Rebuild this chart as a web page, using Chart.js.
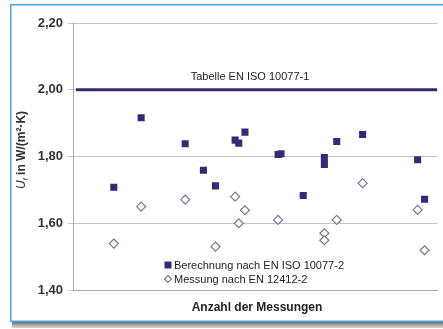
<!DOCTYPE html>
<html>
<head>
<meta charset="utf-8">
<script src="https://cdn.jsdelivr.net/npm/chart.js@4"></script>
<style>
html,body{margin:0;padding:0;background:#fff;width:443px;height:329px;overflow:hidden;}
#wrap{position:absolute;left:0;top:0;width:443px;height:329px;}
</style>
</head>
<body>
<div id="wrap"><canvas id="c" width="443" height="329"></canvas></div>
<script>
// Data
const calcX = [11.2, 18.7, 30.8, 35.8, 39.1, 44.5, 45.5, 47.2, 56.3, 57.1, 63.2, 69.0, 69.0, 72.4, 79.5, 94.6, 96.5];
const calcY = [1.708, 1.916, 1.838, 1.759, 1.712, 1.849, 1.840, 1.873, 1.806, 1.808, 1.683, 1.797, 1.776, 1.845, 1.866, 1.790, 1.672];
const measX = [11.2, 18.7, 30.8, 39.1, 44.5, 45.5, 47.2, 56.3, 69.0, 69.0, 72.4, 79.5, 94.6, 96.5];
const measY = [1.539, 1.650, 1.671, 1.530, 1.680, 1.600, 1.639, 1.610, 1.570, 1.549, 1.610, 1.720, 1.640, 1.519];
const refValue = 2.00;
const refLabel = 'Tabelle EN ISO 10077-1';
const yTicks = [1.40, 1.60, 1.80, 2.00, 2.20];
const seriesNames = ['Berechnung nach EN ISO 10077-2', 'Messung nach EN 12412-2'];
const xTitle = 'Anzahl der Messungen';

const SQ = '#302c7a';
const DI = '#767598';
const REF = '#3a2670';

const toPts = (xs, ys) => xs.map((x, i) => ({x: x, y: ys[i]}));

// Blue frame with shadow drawn on the canvas (left, top, bottom edges only)
const frame = {
  id: 'frame',
  beforeDraw(chart) {
    const ctx = chart.ctx;
    ctx.save();
    const g = ctx.createLinearGradient(0, 322, 0, 329);
    g.addColorStop(0, '#6f6f6f');
    g.addColorStop(1, 'rgba(160,160,160,0.3)');
    ctx.fillStyle = g;
    ctx.fillRect(12, 322, 431, 6);
    ctx.strokeStyle = '#45a6e6';
    ctx.lineWidth = 1.5;
    ctx.beginPath();
    ctx.moveTo(450, 4.75);
    ctx.lineTo(10.75, 4.75);
    ctx.lineTo(10.75, 321.25);
    ctx.lineTo(450, 321.25);
    ctx.stroke();
    ctx.restore();
  }
};

const overlay = {
  id: 'overlay',
  afterDraw(chart) {
    const ctx = chart.ctx;
    const ys = chart.scales.y;
    ctx.save();
    ctx.fillStyle = '#222';
    ctx.font = '11px "Liberation Sans", Arial, sans-serif';
    ctx.textAlign = 'center';
    ctx.textBaseline = 'middle';
    ctx.fillText(refLabel, 250, ys.getPixelForValue(refValue) - 13);
    ctx.font = 'bold 12px "Liberation Sans", Arial, sans-serif';
    ctx.fillText(xTitle, 257, 308);
    ctx.textAlign = 'left';
    ctx.font = '11px "Liberation Sans", Arial, sans-serif';
    ctx.fillStyle = SQ;
    ctx.fillRect(164.5, 261.5, 7, 7);
    ctx.fillStyle = '#222';
    ctx.fillText(seriesNames[0], 174, 265.5);
    ctx.beginPath();
    ctx.moveTo(168, 275.5); ctx.lineTo(171.5, 279); ctx.lineTo(168, 282.5); ctx.lineTo(164.5, 279); ctx.closePath();
    ctx.fillStyle = '#fff'; ctx.fill();
    ctx.strokeStyle = DI; ctx.lineWidth = 1.2; ctx.stroke();
    ctx.fillStyle = '#222';
    ctx.fillText(seriesNames[1], 174, 279.5);
    ctx.translate(22, 150);
    ctx.rotate(-Math.PI / 2);
    ctx.textBaseline = 'middle';
    const p1 = 'U', p2 = 'f', p3 = ' in W/(m²·K)';
    ctx.font = 'italic 12px "Liberation Sans", Arial, sans-serif';
    const w1 = ctx.measureText(p1).width;
    ctx.font = 'italic 8px "Liberation Sans", Arial, sans-serif';
    const w2 = ctx.measureText(p2).width;
    ctx.font = 'bold 12px "Liberation Sans", Arial, sans-serif';
    const w3 = ctx.measureText(p3).width;
    let x0 = -(w1 + w2 + w3) / 2;
    ctx.fillStyle = '#333';
    ctx.font = 'italic 12px "Liberation Sans", Arial, sans-serif';
    ctx.fillText(p1, x0, 0); x0 += w1;
    ctx.font = 'italic 8px "Liberation Sans", Arial, sans-serif';
    ctx.fillText(p2, x0, 4); x0 += w2;
    ctx.font = 'bold 12px "Liberation Sans", Arial, sans-serif';
    ctx.fillText(p3, x0, 0);
    ctx.restore();
  }
};

new Chart(document.getElementById('c'), {
  type: 'scatter',
  data: {
    datasets: [
      {
        type: 'line',
        label: refLabel,
        data: [{x: 0.8, y: refValue}, {x: 100, y: refValue}],
        borderColor: REF,
        borderWidth: 3,
        pointRadius: 0,
        order: 3
      },
      {
        label: seriesNames[1],
        data: toPts(measX, measY),
        pointStyle: 'rectRot',
        pointRadius: 4.5,
        backgroundColor: '#fff',
        borderColor: DI,
        borderWidth: 1.2,
        order: 2
      },
      {
        label: seriesNames[0],
        data: toPts(calcX, calcY),
        pointStyle: 'rect',
        pointRadius: 5,
        backgroundColor: SQ,
        borderColor: SQ,
        borderWidth: 0,
        order: 1
      }
    ]
  },
  options: {
    responsive: false,
    animation: false,
    events: [],
    layout: {padding: {left: 0, right: 2, top: 23, bottom: 0}},
    plugins: {legend: {display: false}, tooltip: {enabled: false}},
    scales: {
      x: {
        type: 'linear',
        min: 0, max: 100,
        ticks: {display: false},
        grid: {display: false},
        border: {display: true, color: '#a8a8a8', width: 1},
        afterFit(s) { s.height = 39; }
      },
      y: {
        min: 1.4, max: 2.2,
        afterBuildTicks(s) { s.ticks = yTicks.map(v => ({value: v})); },
        ticks: {
          padding: 5,
          color: '#333',
          font: {family: '"Liberation Sans", Arial, sans-serif', size: 13, weight: 'bold'},
          callback: v => v.toFixed(2).replace('.', ',')
        },
        grid: {color: '#c4c4c4', lineWidth: 1, tickLength: 5, drawTicks: true},
        border: {display: true, color: '#a8a8a8', width: 1},
        afterFit(s) { s.width = 73; }
      }
    }
  },
  plugins: [frame, overlay]
});
</script>
</body>
</html>
